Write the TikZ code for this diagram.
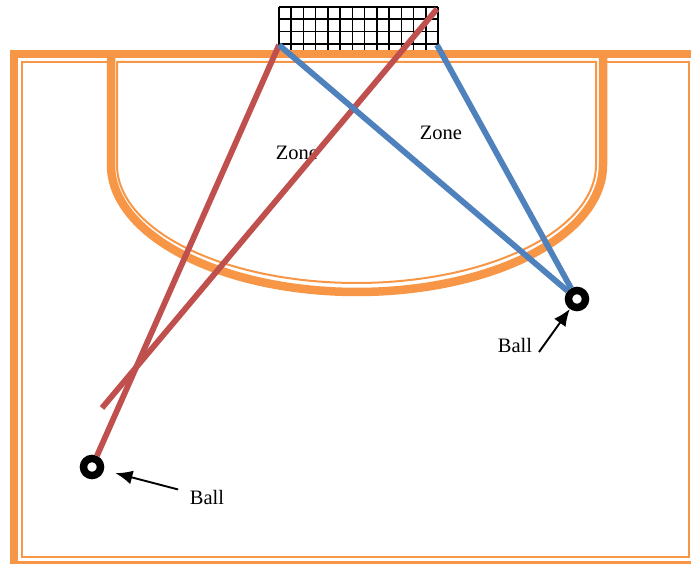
\documentclass[tikz,border=0pt]{standalone}
\usepackage{fontspec}
\setmainfont{Liberation Serif}
\usepackage{xcolor}
\definecolor{pitch}{HTML}{F79646}
\definecolor{shotred}{HTML}{C0504D}
\definecolor{shotblue}{HTML}{4F81BD}
\usepackage{tikz}
\usetikzlibrary{arrows.meta,calc}
\tikzset{
    rim/.style = {pitch, line width=8.5pt},
    rimthin/.style = {pitch, line width=2pt},
    net/.style = {black, line width=1.6pt},
    ballring/.style = {circle, draw, line width=7.5pt, minimum size=17pt, inner sep=0pt},
    lbl/.style = {inner sep=0pt, font=\fontsize{20.5}{24}\selectfont},
    shot/.style = {line width=5.8pt},
    pointer/.style = {-{Latex[length=17pt,width=14pt]}, line width=1.9pt}
}

\begin{document}
\begin{tikzpicture}[x=1pt, y=-1pt]
      \useasboundingbox (0,0) rectangle (691,564);

      % goal net
      \foreach \i in {0,...,13}
          \draw[net] ({279+\i*12.23},7) -- ({279+\i*12.23},54);
      \foreach \j in {0,...,3}
          \draw[net] (279,{7+\j*12.3}) -- (438,{7+\j*12.3});

      % pitch lines
      \draw[rim] (14,54) rectangle (696,565);
      \draw[rimthin] (111,62) -- (22,62) -- (22,557) -- (689,557) -- (689,62) -- (603,62);
      \draw[rim] (111,54) -- (111,165)
          -- plot[domain=180:360, samples=90] ({357+246*cos(\x)}, {165-127*sin(\x)})
          -- (603,54);
      \draw[rimthin] (117,62) -- (117,165)
          -- plot[domain=180:360, samples=90] ({356.5+239.5*cos(\x)}, {165-118*sin(\x)})
          -- (596,62) -- cycle;

      \node[ballring] (ballA) at (92,467) {};
      \node[ballring] (ballB) at (577,299) {};
      \coordinate (postL) at (279,45);
      \coordinate (postR) at (437,45);
      \coordinate (netTR) at (437,9);
      \coordinate (shotEnd) at (102,408);
      \coordinate (tailB) at (539,352);

      \node[lbl] (zoneA) at (297,153) {Zone};
      \node[lbl] (zoneB) at (441,133) {Zone};
      \node[lbl] (lblA) at (207,497) {Ball};
      \node[lbl] (lblB) at (515,345) {Ball};

      \path[shotred, shot] (ballA) edge (postL);
      \path[shotred, shot] (shotEnd) edge (netTR);
      \path[shotblue, shot] (ballB) edge (postL);
      \path[shotblue, shot] (ballB) edge (postR);

      \draw[pointer, shorten <=12pt, shorten >=12pt] (lblA) -- (ballA);
      \draw[pointer] (tailB) -- (ballB);
    \end{tikzpicture}
\end{document}
